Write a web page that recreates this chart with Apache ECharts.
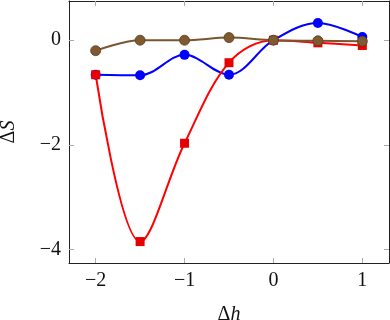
<!DOCTYPE html>
<html>
<head>
<meta charset="utf-8">
<script src="https://cdn.jsdelivr.net/npm/echarts@6/dist/echarts.min.js"></script>
<style>
  html, body { margin: 0; padding: 0; background: #fff; }
  #chart { width: 390px; height: 320px; }
</style>
</head>
<body>
<div id="chart"></div>
<script>
const dh = [-2, -1.5, -1, -0.5, 0, 0.5, 1]
const blueVals = [-0.66, -0.67, -0.28, -0.66, 0, 0.33, 0.06]
const redVals = [-0.66, -3.85, -1.97, -0.43, 0, -0.05, -0.1]
const brownVals = [-0.2, 0, 0, 0.05, 0, -0.01, -0.02]
const xTicks = [-2, -1, 0, 1]
const yTicks = [-4, -2, 0]

const font = '"Liberation Serif", "DejaVu Serif", serif'
const fmt = (v) => String(v).replace('-', '\u2212')
const pairs = (vals) => dh.map((x, i) => [x, vals[i]])

const tick = { show: true, inside: true, length: 5, lineStyle: { color: '#aaa', width: 1 } }
const line = { show: true, onZero: false, lineStyle: { color: '#222', width: 1 } }
const nameStyle = {
  fontFamily: font, fontSize: 20, color: '#111',
  rich: {
    d: { fontFamily: font, fontSize: 20, color: '#111' },
    i: { fontFamily: font, fontSize: 20, color: '#111', fontStyle: 'italic' }
  }
}

const chart = echarts.init(document.getElementById('chart'))
chart.setOption({
  animation: false,
  grid: { left: 69, right: 1, top: 1, bottom: 57, containLabel: false, outerBoundsMode: 'none' },
  xAxis: [{
    type: 'value', min: -2.3, max: 1.3,
    axisLine: line,
    axisTick: Object.assign({ customValues: xTicks }, tick),
    axisLabel: { customValues: xTicks, formatter: fmt, fontFamily: font, fontSize: 20, color: '#111', margin: 8 },
    splitLine: { show: false },
    name: '{d|\u0394}{i|h}', nameLocation: 'middle', nameGap: 42,
    nameTextStyle: nameStyle
  }, {
    type: 'value', position: 'top', min: -2.3, max: 1.3,
    axisLine: line,
    axisTick: Object.assign({ customValues: xTicks }, tick),
    axisLabel: { show: false }, splitLine: { show: false }
  }],
  yAxis: [{
    type: 'value', min: -4.26, max: 0.75,
    axisLine: line,
    axisTick: Object.assign({ customValues: yTicks }, tick),
    axisLabel: { customValues: yTicks, formatter: fmt, fontFamily: font, fontSize: 20, color: '#111', margin: 8 },
    splitLine: { show: false },
    name: '{d|\u0394}{i|S}', nameLocation: 'middle', nameGap: 50, nameRotate: 90,
    nameTextStyle: nameStyle
  }, {
    type: 'value', position: 'right', min: -4.26, max: 0.75,
    axisLine: line,
    axisTick: Object.assign({ customValues: yTicks }, tick),
    axisLabel: { show: false }, splitLine: { show: false }
  }],
  series: [{
    type: 'line', data: pairs(blueVals), smooth: 0.35,
    symbol: 'circle', symbolSize: 10,
    lineStyle: { color: '#0000ff', width: 2 },
    itemStyle: { color: '#0000ff' }
  }, {
    type: 'line', data: pairs(redVals), smooth: 0.35,
    symbol: 'rect', symbolSize: 9,
    lineStyle: { color: '#ff0000', width: 2 },
    itemStyle: { color: '#e60000' }
  }, {
    type: 'line', data: pairs(brownVals), smooth: 0.35,
    symbol: 'circle', symbolSize: 10,
    lineStyle: { color: '#7a5530', width: 2 },
    itemStyle: { color: '#7f5a30', borderColor: '#5a3c1e', borderWidth: 0.8 }
  }]
})
</script>
</body>
</html>
